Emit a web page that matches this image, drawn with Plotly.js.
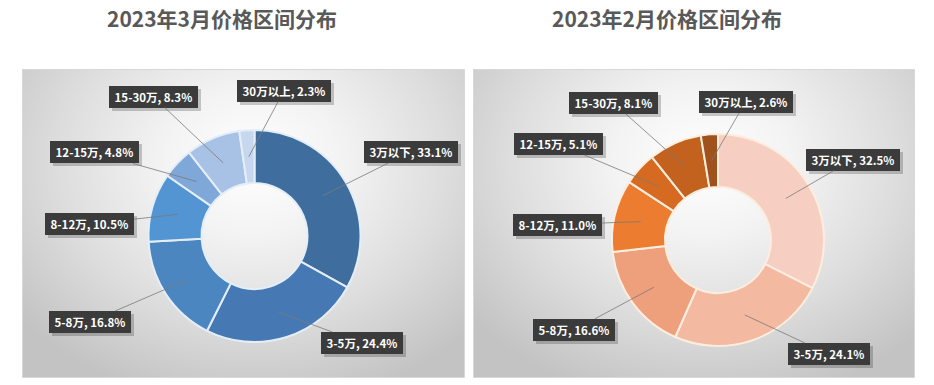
<!DOCTYPE html>
<html>
<head>
<meta charset="utf-8">
<script src="https://cdn.plot.ly/plotly-3.0.1.min.js"></script>
<style>
  html, body { margin: 0; padding: 0; background: #ffffff; }
  #wrap { position: relative; width: 934px; height: 385px; overflow: hidden; }
  .panel { position: absolute; top: 69px; height: 309px; box-sizing: border-box;
           border: 1px solid #d8d8d8;
           background: radial-gradient(ellipse 68% 80% at 52% 30%, #ffffff 0%, #f3f3f3 30%, #dddddd 65%, #c3c3c3 100%); }
  #p1 { left: 22px; width: 443px; }
  #p2 { left: 473px; width: 442px; }
  #chart { position: absolute; left: 0; top: 0; width: 934px; height: 385px; }
</style>
</head>
<body>
<div id="wrap">
  <div class="panel" id="p1"></div>
  <div class="panel" id="p2"></div>
  <div id="chart"></div>
</div>
<script>
// ---- data ----
const categories = ["3万以下", "3-5万", "5-8万", "8-12万", "12-15万", "15-30万", "30万以上"];
const marchValues = [33.1, 24.4, 16.8, 10.5, 4.8, 8.3, 2.3];
const febValues   = [32.5, 24.1, 16.6, 11.0, 5.1, 8.1, 2.6];
const titleMarch = "2023年3月价格区间分布";
const titleFeb   = "2023年2月价格区间分布";

// ---- styles / layout config ----
const W = 934, H = 385;
const marchColors = ["#3F6E9E", "#4679B3", "#4B86C0", "#5394D2", "#7FA7D8", "#A8C2E5", "#C7D7EE"];
const febColors   = ["#F7CFC2", "#F4B9A1", "#EE9F7B", "#EC7C2F", "#D76A21", "#C3611E", "#A0521C"];
const pies = [
  { cx: 254.5, cy: 236, R: 106, values: marchValues, colors: marchColors, line: "#E4EEF8",
    labelPos: [[410.5,152],[362,343],[89.5,322],[89.5,224],[94,152.5],[153,96.5],[284,90.5]],
    title: titleMarch, titleX: 222 },
  { cx: 718, cy: 240, R: 106, values: febValues, colors: febColors, line: "#FCEEDF",
    labelPos: [[853,159.5],[828.5,354],[574,330],[557,224.5],[558,144],[613.5,103],[745.5,102]],
    title: titleFeb, titleX: 667 }
];

const traces = [];
const annotations = [];
const labelIdx = [];
const labelFont = { family: "Noto Sans CJK SC, Noto Sans, sans-serif", size: 11.5, color: "#ffffff" };
pies.forEach(p => {
  traces.push({
    type: "pie",
    labels: categories,
    values: p.values,
    sort: false,
    direction: "clockwise",
    rotation: 0,
    hole: 0.5,
    textinfo: "none",
    hoverinfo: "label+percent",
    marker: { colors: p.colors, line: { color: p.line, width: 2 } },
    domain: {
      x: [(p.cx - p.R) / W, (p.cx + p.R) / W],
      y: [1 - (p.cy + p.R) / H, 1 - (p.cy - p.R) / H]
    },
    showlegend: false
  });
  const total = p.values.reduce((a, b) => a + b, 0);
  let cum = 0;
  const rA = p.R * 0.75;
  p.values.forEach((v, i) => {
    const mid = (cum + v / 2) / total * 2 * Math.PI;
    cum += v;
    const axp = p.cx + rA * Math.sin(mid);
    const ayp = p.cy - rA * Math.cos(mid);
    labelIdx.push(annotations.length);
    annotations.push({
      xref: "paper", yref: "paper",
      x: axp / W, y: 1 - ayp / H,
      ax: p.labelPos[i][0] - axp, ay: p.labelPos[i][1] - ayp,
      showarrow: true, arrowhead: 0, arrowwidth: 0.8, arrowcolor: "#7a7a7a", standoff: 0,
      text: "&nbsp;<b>" + categories[i] + ", " + v.toFixed(1) + "%</b>&nbsp;",
      font: labelFont,
      bgcolor: "#3b3b3b", borderpad: 3, borderwidth: 0
    });
  });
  annotations.push({
    xref: "paper", yref: "paper", x: p.titleX / W, y: 1 - 18 / H,
    xanchor: "center", yanchor: "middle", showarrow: false,
    text: "<b>" + p.title + "</b>",
    font: { family: "Noto Sans CJK SC, sans-serif", size: 21, color: "#595959" }
  });
});

const layout = {
  width: W, height: H,
  margin: { l: 0, r: 0, t: 0, b: 0 },
  paper_bgcolor: "rgba(0,0,0,0)",
  plot_bgcolor: "rgba(0,0,0,0)",
  annotations: annotations,
  shapes: [],
  showlegend: false
};
Plotly.newPlot("chart", traces, layout, { displayModeBar: false, staticPlot: true }).then(gd => {
  // drop shadows behind the label boxes, sized from the rendered boxes
  const base = gd.getBoundingClientRect();
  const shapes = [];
  gd.querySelectorAll("g.annotation").forEach(g => {
    const idx = +g.getAttribute("data-index");
    if (labelIdx.indexOf(idx) < 0) return;
    const bg = g.querySelector("rect.bg");
    if (!bg) return;
    const r = bg.getBoundingClientRect();
    const x0 = r.left - base.left + 3, x1 = r.right - base.left + 3;
    const y0 = r.top - base.top + 3, y1 = r.bottom - base.top + 3;
    shapes.push({
      type: "rect", xref: "paper", yref: "paper", layer: "above",
      x0: x0 / W, x1: x1 / W, y0: 1 - y1 / H, y1: 1 - y0 / H,
      fillcolor: "rgba(0,0,0,0.2)", line: { width: 0 }
    });
  });
  return Plotly.relayout(gd, { shapes: shapes });
});
</script>
</body>
</html>
